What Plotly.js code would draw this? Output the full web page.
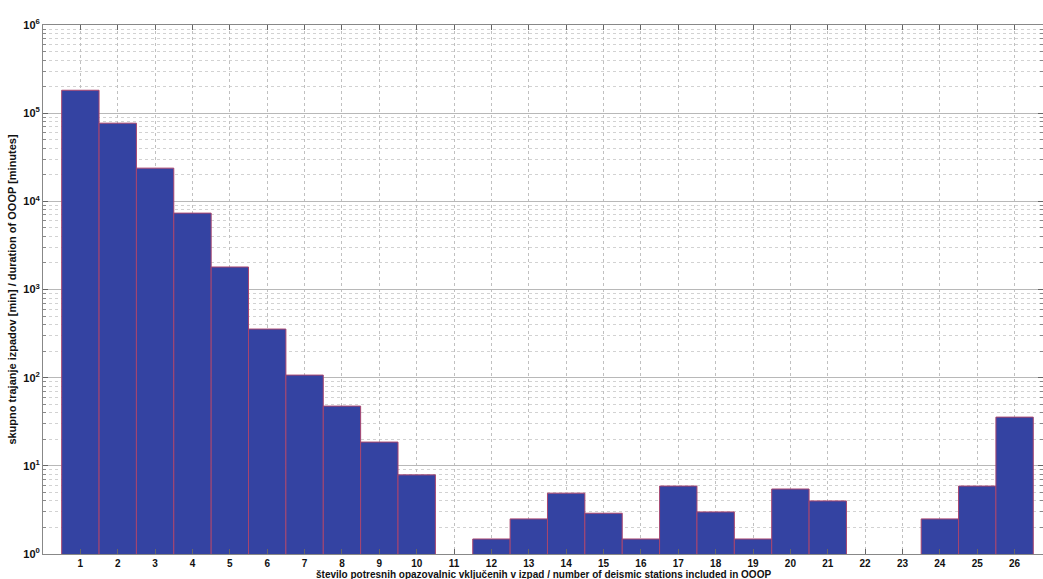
<!DOCTYPE html>
<html>
<head>
<meta charset="utf-8">
<script src="https://cdn.plot.ly/plotly-3.0.1.min.js"></script>
<style>html,body{margin:0;padding:0;background:#fff;}#chart{width:1043px;height:579px;}</style>
</head>
<body>
<div id="chart"></div>
<script>
const categories = [1,2,3,4,5,6,7,8,9,10,11,12,13,14,15,16,17,18,19,20,21,22,23,24,25,26];
const durations = [182000, 77000, 23800, 7350, 1800, 356, 107, 47.6, 18.6, 7.9, null, 1.48, 2.5, 4.9, 2.9, 1.48, 5.9, 3.0, 1.48, 5.46, 4.0, null, null, 2.5, 5.9, 35.7];
const yTickVals = [1, 10, 100, 1000, 10000, 100000, 1000000];
const yTickText = ['10<sup>0</sup>','10<sup>1</sup>','10<sup>2</sup>','10<sup>3</sup>','10<sup>4</sup>','10<sup>5</sup>','10<sup>6</sup>'];
const xTitle = 'število potresnih opazovalnic vključenih v izpad / number of deismic stations included in OOOP';
const yTitle = 'skupno trajanje izpadov [min] / duration of OOOP [minutes]';

const fam = 'Liberation Sans, Arial, sans-serif';

const trace = {
  type: 'bar',
  x: categories,
  y: durations,
  width: 1,
  marker: {color: '#3443a2', line: {color: '#a8456e', width: 1}},
  hoverinfo: 'x+y'
};

const layout = {
  width: 1043, height: 579,
  margin: {l: 43, r: 0, t: 25, b: 25},
  paper_bgcolor: '#fff', plot_bgcolor: '#fff',
  showlegend: false,
  font: {family: fam, color: '#111', size: 11, weight: 700},
  bargap: 0,
  xaxis: {
    range: [0, 26.76],
    tickvals: categories,
    ticktext: categories.map(String),
    ticks: 'inside', ticklen: 5, tickcolor: '#666', tickwidth: 1,
    showline: true, linecolor: '#888', linewidth: 1, mirror: 'ticks',
    showgrid: true, gridcolor: '#c0c0c0', griddash: 'dot', gridwidth: 1,
    zeroline: false,
    ticklabelstandoff: 0,
    tickfont: {family: fam, size: 10, color: '#111', weight: 700},
    automargin: false
  },
  yaxis: {
    type: 'log',
    range: [0, 6],
    tickvals: yTickVals,
    ticktext: yTickText,
    ticks: 'inside', ticklen: 5, tickcolor: '#666',
    showline: true, linecolor: '#888', linewidth: 1, mirror: 'ticks',
    showgrid: true, gridcolor: '#b8b8b8', gridwidth: 1,
    minor: {dtick: 'D1', ticks: 'inside', ticklen: 3, tickcolor: '#888', showgrid: true, gridcolor: '#d2d2d2', griddash: 'dot', gridwidth: 1},
    zeroline: false,
    tickfont: {family: fam, size: 11, color: '#111', weight: 700},
    title: {text: yTitle, standoff: 4, font: {family: fam, size: 11, color: '#111', weight: 700}},
    automargin: false
  },
  annotations: [{
    text: xTitle, xref: 'paper', yref: 'paper', x: 0.5, y: -25/554, xanchor: 'center', yanchor: 'bottom',
    yshift: -3, showarrow: false, font: {family: fam, size: 10, color: '#111', weight: 700}, borderpad: 0
  }]
};

Plotly.newPlot('chart', [trace], layout, {displayModeBar: false, staticPlot: true});
</script>
</body>
</html>
